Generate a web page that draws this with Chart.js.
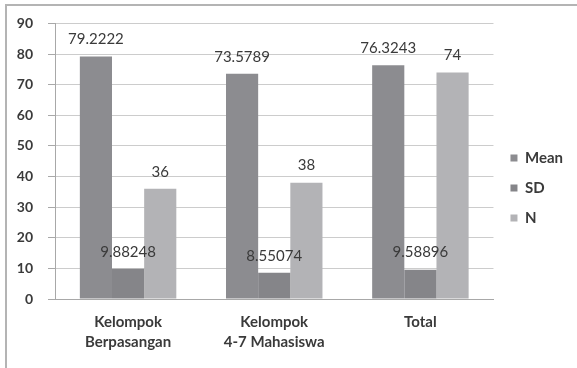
<!DOCTYPE html>
<html>
<head>
<meta charset="utf-8">
<script src="https://cdn.jsdelivr.net/npm/chart.js@4.4.1/dist/chart.umd.min.js"></script>
<style>
  html, body { margin: 0; padding: 0; background: #fff; }
  #wrap { width: 577px; height: 368px; position: relative; }
</style>
</head>
<body>
<div id="wrap"><canvas id="chart"></canvas></div>
<script>
// --- Data ---
const categories = [['Kelompok', 'Berpasangan'], ['Kelompok', '4-7 Mahasiswa'], 'Total'];
const meanValues = [79.2222, 73.5789, 76.3243];
const sdValues = [9.88248, 8.55074, 9.58896];
const nValues = [36, 38, 74];
const yTicks = { min: 0, max: 90, step: 10 };

const FONT = 'Lato';

// outer frame of the original figure
const framePlugin = {
    id: 'frame',
    beforeDraw(chart) {
        const c = chart.ctx;
        c.save();
        c.strokeStyle = '#b4b4b4';
        c.lineWidth = 2;
        c.beginPath();
        c.moveTo(6, 368);
        c.lineTo(6, 5);
        c.lineTo(577, 5);
        c.stroke();
        c.restore();
    }
};

// value labels above each bar
const valueLabels = {
    id: 'valueLabels',
    afterDatasetsDraw(chart) {
        const c = chart.ctx;
        c.save();
        c.font = '15px ' + FONT;
        c.fillStyle = '#3a3a3a';
        c.textAlign = 'center';
        c.textBaseline = 'middle';
        chart.data.datasets.forEach((ds, i) => {
            chart.getDatasetMeta(i).data.forEach((bar, j) => {
                c.fillText(String(ds.data[j]), bar.x, bar.y - 17);
            });
        });
        c.restore();
    }
};

const ctx = document.getElementById('chart').getContext('2d');
const chart = new Chart(ctx, {
    type: 'bar',
    data: {
        labels: categories,
        datasets: [
            { label: 'Mean', data: meanValues, backgroundColor: '#8c8c90' },
            { label: 'SD', data: sdValues, backgroundColor: '#858589' },
            { label: 'N', data: nValues, backgroundColor: '#b3b3b6' }
        ]
    },
    options: {
        responsive: true,
        maintainAspectRatio: false,
        animation: false,
        layout: { padding: { top: 18, bottom: 10, left: 8, right: 4 } },
        datasets: { bar: { barPercentage: 1, categoryPercentage: 0.66 } },
        plugins: {
            tooltip: { enabled: false },
            legend: {
                position: 'right',
                labels: {
                    boxWidth: 7,
                    boxHeight: 7,
                    padding: 15,
                    color: '#3a3a3a',
                    font: { family: FONT, size: 15, weight: 'bold' }
                }
            }
        },
        scales: {
            x: {
                grid: { display: false, drawTicks: false },
                border: { color: '#a8a8a8', width: 1 },
                ticks: {
                    padding: 13,
                    color: '#3a3a3a',
                    font: { family: FONT, size: 15, weight: 'bold', lineHeight: 1.35 }
                },
                afterFit(scale) { scale.height = 59; }
            },
            y: {
                min: yTicks.min,
                max: yTicks.max,
                grid: { color: '#cccccc', tickLength: 7, tickColor: '#a8a8a8' },
                border: { color: '#a8a8a8', width: 1 },
                ticks: {
                    stepSize: yTicks.step,
                    padding: 15,
                    color: '#3a3a3a',
                    font: { family: FONT, size: 14, weight: 'bold' }
                },
                afterFit(scale) { scale.width = 47; }
            },
            // empty spacer between the plot and the legend
            gap: {
                type: 'linear',
                position: 'right',
                grid: { display: false },
                border: { display: false },
                ticks: { display: false },
                afterFit(scale) { scale.width = 2; }
            }
        }
    },
    plugins: [framePlugin, valueLabels]
});
</script>
</body>
</html>
